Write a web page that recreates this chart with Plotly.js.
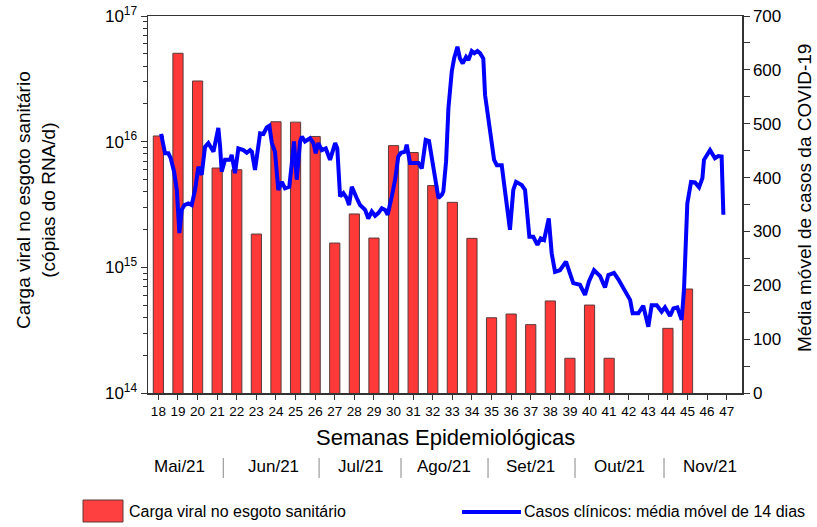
<!DOCTYPE html>
<html>
<head>
<meta charset="utf-8">
<script src="https://cdn.plot.ly/plotly-3.0.1.min.js"></script>
<style>html,body{margin:0;padding:0;background:#fff;}#chart{width:817px;height:527px;}</style>
</head>
<body>
<div id="chart"></div>
<script>
// Weekly viral load in sewage (copies of RNA/day)
const weeks = [18,19,20,21,22,23,24,25,26,27,28,29,30,31,32,33,34,35,36,37,38,39,40,41,44,45];
const viralLoad = [1.11e16,5.05e16,3.04e16,6.17e15,5.98e15,1.84e15,1.44e16,1.43e16,1.10e16,1.56e15,2.66e15,1.71e15,9.3e15,8.2e15,4.47e15,3.29e15,1.70e15,3.97e14,4.25e14,3.50e14,5.40e14,1.89e14,5.01e14,1.89e14,3.27e14,6.72e14];

// 14-day moving average of clinical cases (fractional epidemiological week)
const caseWeek = [18.14,18.34,18.51,18.63,18.80,18.94,19.07,19.19,19.33,19.53,
19.70,19.87,20.04,20.21,20.38,20.55,20.81,20.98,21.06,21.15,
21.23,21.40,21.66,21.74,21.91,22.08,22.34,22.51,22.68,22.77,
22.93,23.19,23.36,23.53,23.66,23.79,23.95,24.12,24.30,24.46,
24.68,24.81,24.92,25.06,25.23,25.32,25.48,25.74,25.91,26.03,
26.16,26.34,26.54,26.76,27.02,27.13,27.27,27.44,27.61,27.73,
27.87,28.12,28.29,28.55,28.71,28.89,29.06,29.22,29.40,29.57,
29.70,29.91,30.08,30.24,30.38,30.59,30.67,30.84,31.27,31.44,
31.64,31.81,31.95,32.12,32.29,32.46,32.54,32.68,32.80,32.97,
33.09,33.26,33.39,33.53,33.70,33.82,33.99,34.12,34.28,34.41,
34.58,34.67,34.84,35.01,35.13,35.27,35.52,35.69,35.94,36.11,
36.25,36.54,36.71,36.93,37.13,37.34,37.51,37.68,37.92,38.07,
38.24,38.49,38.80,39.00,39.17,39.51,39.77,39.97,40.23,40.54,
40.79,40.96,41.25,41.47,41.81,42.07,42.20,42.49,42.74,43.00,
43.17,43.43,43.68,43.85,44.11,44.28,44.48,44.70,44.82,44.87,
44.99,45.18,45.38,45.59,45.76,45.84,46.15,46.40,46.57,46.74,46.83];
const caseAvg = [481,445,445,436,411,377,297,340,349,352,
349,377,420,405,457,464,448,479,492,457,
411,433,433,442,408,454,451,446,451,448,
414,482,481,493,496,464,448,377,392,380,
383,427,467,396,467,476,467,473,464,445,
464,451,454,433,464,454,365,371,362,349,
383,362,349,340,324,337,329,334,343,340,
331,365,396,439,446,448,461,427,427,417,
470,468,436,402,362,368,374,430,529,597,
621,643,621,612,624,618,635,631,635,631,
621,553,504,461,433,423,423,374,303,377,
392,386,377,290,290,275,287,284,324,259,
225,228,244,222,204,201,182,207,228,217,
196,219,223,211,191,173,148,148,162,123,
163,163,151,159,143,157,159,136,191,247,
352,392,391,382,399,433,451,436,440,439,331];

const weekTicks = [18,19,20,21,22,23,24,25,26,27,28,29,30,31,32,33,34,35,36,37,38,39,40,41,42,43,44,45,46,47];
const logTickVals = [1e14,1e15,1e16,1e17];
const logTickText = ['10<sup>14</sup>','10<sup>15</sup>','10<sup>16</sup>','10<sup>17</sup>'];
const months = ['Mai/21','Jun/21','Jul/21','Ago/21','Set/21','Out/21','Nov/21'];
const monthCenters = [19.1,23.85,28.29,32.58,37.0,41.55,46.14];
const monthSeparators = [21.31,26.2,30.38,34.82,39.26,43.8];

const FONT = 'Liberation Sans, Arial, sans-serif';

const minorLog = [];
for (let e = 14; e < 17; e++) for (let m = 2; m <= 9; m++) minorLog.push(m * Math.pow(10, e));

const traces = [
  {
    type: 'bar', x: weeks, y: viralLoad, width: 0.52,
    marker: {color: '#ff3838', line: {color: '#5a3a3a', width: 1}},
    yaxis: 'y', showlegend: false, hoverinfo: 'x+y'
  },
  {
    type: 'scatter', mode: 'lines', x: caseWeek, y: caseAvg,
    line: {color: '#0000ff', width: 4},
    yaxis: 'y2', showlegend: false
  }
];

const annotations = [];
const shapes = [];
months.forEach((m, i) => annotations.push({
  xref: 'x', yref: 'paper', x: monthCenters[i], y: -0.196, text: m, showarrow: false,
  font: {family: FONT, size: 17, color: '#000'}, xanchor: 'center', yanchor: 'middle'
}));
monthSeparators.forEach(s => shapes.push({
  type: 'line', xref: 'x', yref: 'paper', x0: s, x1: s, y0: -0.1724, y1: -0.2255,
  line: {color: '#888', width: 1}
}));
annotations.push({
  xref: 'paper', yref: 'paper', x: 0.5, y: -0.119, text: 'Semanas Epidemiológicas', showarrow: false,
  font: {family: FONT, size: 22, color: '#000'}, xanchor: 'center', yanchor: 'middle'
});
// left title
annotations.push({
  xref: 'paper', yref: 'paper', x: (36 - 148) / 594, y: (393 - 200) / 377,
  text: 'Carga viral no esgoto sanitário<br>(cópias do RNA/d)', showarrow: false, textangle: -90,
  font: {family: FONT, size: 19, color: '#000'}, xanchor: 'center', yanchor: 'middle'
});
// right title
annotations.push({
  xref: 'paper', yref: 'paper', x: (804 - 148) / 594, y: (393 - 198) / 377,
  text: 'Média móvel de casos da COVID-19', showarrow: false, textangle: -90,
  font: {family: FONT, size: 19, color: '#000'}, xanchor: 'center', yanchor: 'middle'
});
// manual legend
const px2x = p => (p - 148) / 594;
const py2y = p => (393 - p) / 377;
shapes.push({type: 'rect', xref: 'paper', yref: 'paper', x0: px2x(83), x1: px2x(123), y0: py2y(500), y1: py2y(522),
  fillcolor: '#ff4040', line: {color: '#5a3a3a', width: 1}});
annotations.push({xref: 'paper', yref: 'paper', x: px2x(127), y: py2y(511), text: 'Carga viral no esgoto sanitário',
  showarrow: false, xanchor: 'left', yanchor: 'middle', font: {family: FONT, size: 16, color: '#000'}});
shapes.push({type: 'line', xref: 'paper', yref: 'paper', x0: px2x(462), x1: px2x(521), y0: py2y(512), y1: py2y(512),
  line: {color: '#0000ff', width: 4}});
annotations.push({xref: 'paper', yref: 'paper', x: px2x(522), y: py2y(511), text: 'Casos clínicos: média móvel de 14 dias',
  showarrow: false, xanchor: 'left', yanchor: 'middle', font: {family: FONT, size: 16, color: '#000'}});

const layout = {
  width: 817, height: 527,
  margin: {l: 148, r: 75, t: 16, b: 134, pad: 0},
  paper_bgcolor: '#fff', plot_bgcolor: '#fff',
  font: {family: FONT, color: '#000'},
  bargap: 0,
  xaxis: {
    type: 'linear', range: [17.47, 47.78], tickmode: 'array', tickvals: weekTicks,
    ticks: 'outside', ticklen: 5, tickwidth: 1, tickcolor: '#333',
    showline: true, linecolor: '#333', linewidth: 1.5, mirror: true,
    showgrid: false, zeroline: false,
    tickfont: {family: FONT, size: 13.5, color: '#000'}
  },
  yaxis: {
    type: 'log', range: [14, 17], tickmode: 'array', tickvals: logTickVals, ticktext: logTickText,
    ticks: 'outside', ticklen: 6, tickwidth: 1, tickcolor: '#333',
    minor: {tickmode: 'array', tickvals: minorLog, ticks: 'outside', ticklen: 4, tickcolor: '#333', showgrid: false},
    showline: true, linecolor: '#333', linewidth: 1.5,
    showgrid: false, zeroline: false,
    tickfont: {family: FONT, size: 17, color: '#000'}
  },
  yaxis2: {
    overlaying: 'y', side: 'right', range: [0, 700], dtick: 100, tick0: 0,
    ticks: 'outside', ticklen: 6, tickwidth: 1, tickcolor: '#333',
    minor: {dtick: 50, ticks: 'outside', ticklen: 6, tickcolor: '#333', showgrid: false},
    showline: true, linecolor: '#333', linewidth: 1.5,
    showgrid: false, zeroline: false,
    tickfont: {family: FONT, size: 17, color: '#000'}
  },
  annotations: annotations,
  shapes: shapes,
  showlegend: false
};

Plotly.newPlot('chart', traces, layout, {displayModeBar: false, staticPlot: true});
</script>
</body>
</html>
